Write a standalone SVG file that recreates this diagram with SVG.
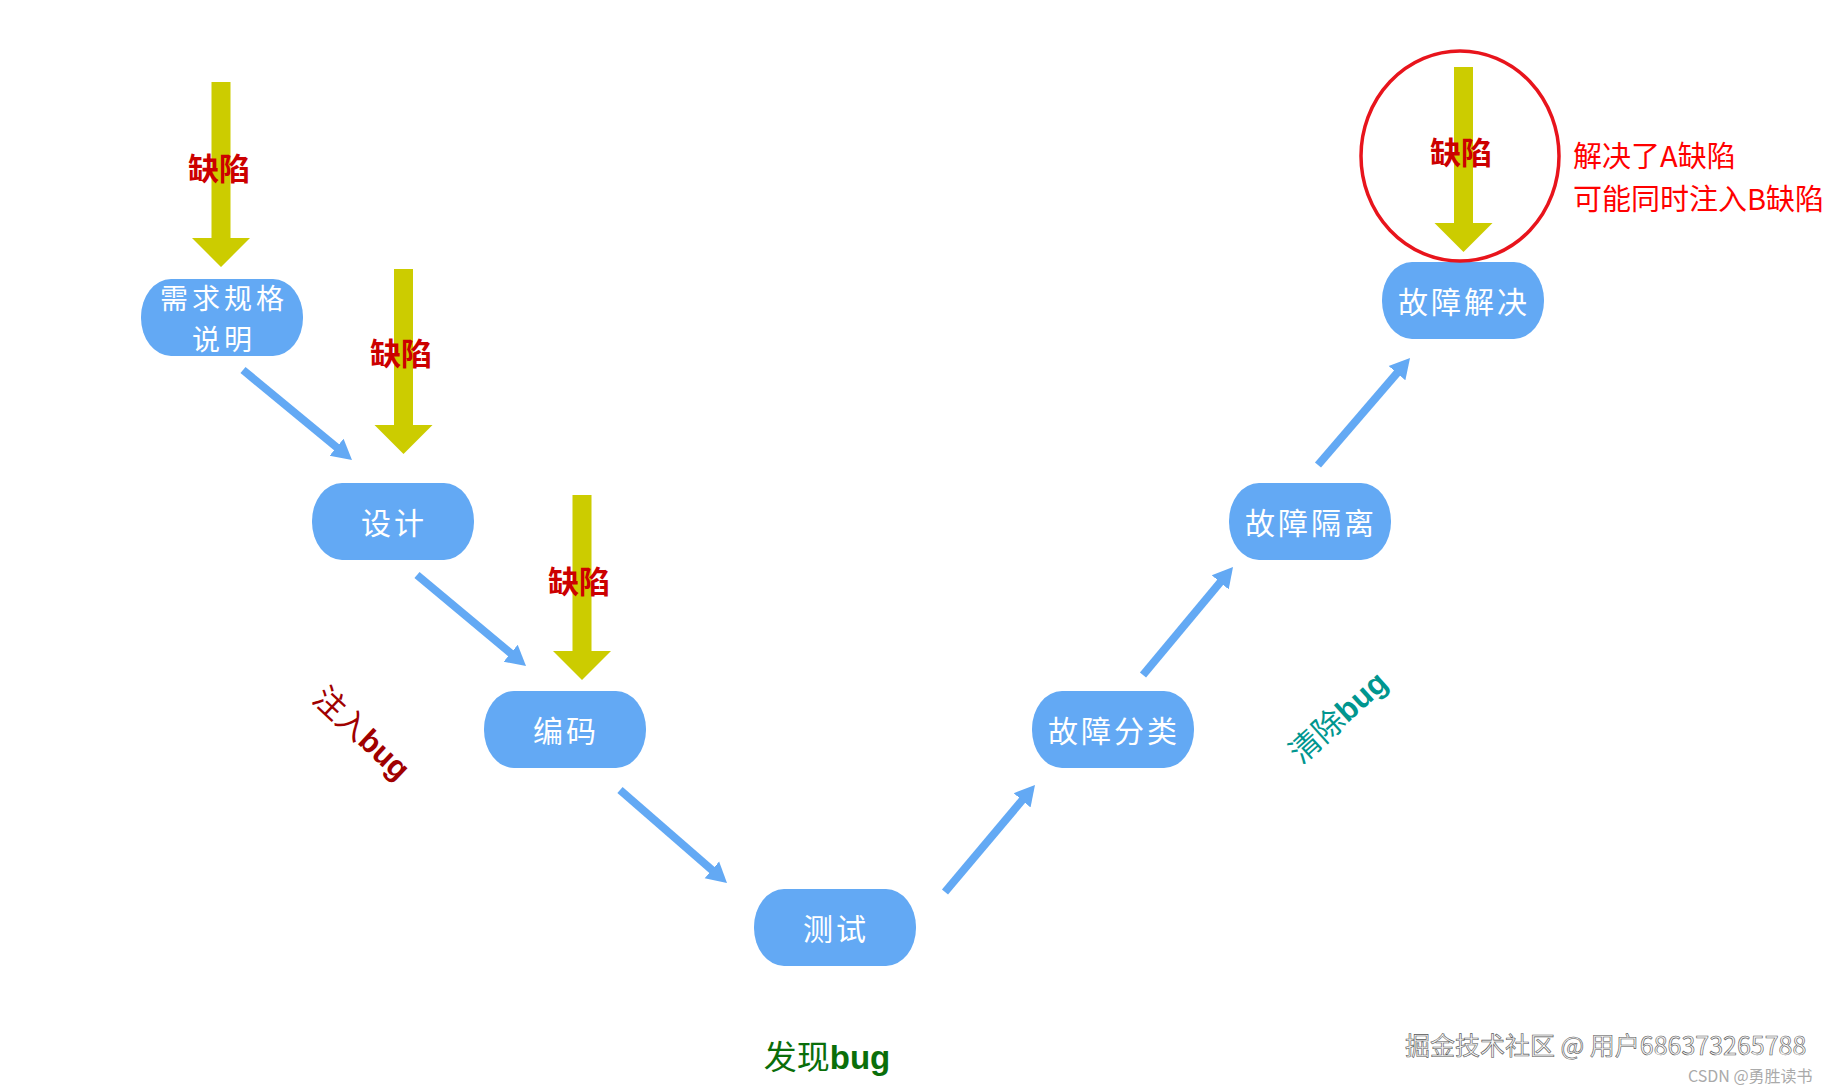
<svg xmlns="http://www.w3.org/2000/svg" xmlns:xlink="http://www.w3.org/1999/xlink" width="1836" height="1090" viewBox="0 0 1836 1090">
<style>
.node rect{fill:#63a9f4}
.nt{font-family:"Noto Sans CJK SC","Noto Sans",sans-serif;font-size:30px;fill:#ffffff;text-anchor:middle;letter-spacing:3px}
.nt2{font-size:28px;letter-spacing:4px}
.conn line{stroke:#63a9f4;stroke-width:8;fill:none}
.defect{font-family:"Noto Sans CJK SC",sans-serif;font-size:31px;font-weight:600;fill:#cc0000;text-anchor:middle}
.yarrow{fill:#cccc00}
.note{font-family:"Noto Sans CJK SC","Noto Sans",sans-serif;font-size:29px;fill:#ff0000}
.bugw{font-family:"Liberation Sans","Noto Sans",sans-serif;font-weight:bold}
</style>
<defs>
<marker id="ah" markerUnits="userSpaceOnUse" markerWidth="22" markerHeight="24" refX="2" refY="12" orient="auto" viewBox="0 0 22 24">
<path d="M0,1 L20,12 L0,23 z" fill="#63a9f4"/>
</marker>
<path id="ya" class="yarrow" d="M-9.5,0 L9.5,0 L9.5,156 L29,156 L0,185 L-29,156 L-9.5,156 z"/>
</defs>
<rect x="0" y="0" width="1836" height="1090" fill="#ffffff"/>

<g id="connectors" class="conn">
<line x1="243" y1="370" x2="338.1" y2="448.5" marker-end="url(#ah)"/>
<line x1="417" y1="575" x2="512.2" y2="654.5" marker-end="url(#ah)"/>
<line x1="620" y1="790" x2="713.4" y2="871.2" marker-end="url(#ah)"/>
<line x1="945" y1="892" x2="1023.4" y2="798.8" marker-end="url(#ah)"/>
<line x1="1143" y1="675" x2="1221.5" y2="580.8" marker-end="url(#ah)"/>
<line x1="1318" y1="465" x2="1398.3" y2="371.6" marker-end="url(#ah)"/>
</g>

<g id="defect-arrows">
<use xlink:href="#ya" href="#ya" transform="translate(221,82)"/>
<use xlink:href="#ya" href="#ya" transform="translate(403.5,269)"/>
<use xlink:href="#ya" href="#ya" transform="translate(582,495)"/>
<use xlink:href="#ya" href="#ya" transform="translate(1463.5,67)"/>
</g>

<g id="defect-labels">
<text class="defect" x="219" y="180">缺陷</text>
<text class="defect" x="401" y="365">缺陷</text>
<text class="defect" x="579" y="593">缺陷</text>
<text class="defect" x="1461" y="164">缺陷</text>
</g>

<g id="n1" class="node">
<rect x="141" y="279" width="162" height="77" rx="30" ry="38"/>
<text class="nt nt2" x="224" y="309">需求规格</text>
<text class="nt nt2" x="224" y="350">说明</text>
</g>
<g id="n2" class="node">
<rect x="312" y="483" width="162" height="77" rx="30" ry="38"/>
<text class="nt" x="394" y="534">设计</text>
</g>
<g id="n3" class="node">
<rect x="484" y="691" width="162" height="77" rx="30" ry="38"/>
<text class="nt" x="566" y="742">编码</text>
</g>
<g id="n4" class="node">
<rect x="754" y="889" width="162" height="77" rx="30" ry="38"/>
<text class="nt" x="836" y="940">测试</text>
</g>
<g id="n5" class="node">
<rect x="1032" y="691" width="162" height="77" rx="30" ry="38"/>
<text class="nt" x="1114" y="742">故障分类</text>
</g>
<g id="n6" class="node">
<rect x="1229" y="483" width="162" height="77" rx="30" ry="38"/>
<text class="nt" x="1311" y="534">故障隔离</text>
</g>
<g id="n7" class="node">
<rect x="1382" y="262" width="162" height="77" rx="30" ry="38"/>
<text class="nt" x="1464" y="313">故障解决</text>
</g>

<ellipse id="highlight" cx="1460" cy="156" rx="99" ry="105" fill="none" stroke="#e8141c" stroke-width="3.5"/>

<g id="note">
<text class="note" x="1573" y="167">解决了A缺陷</text>
<text class="note" x="1573" y="210">可能同时注入B缺陷</text>
</g>

<g id="phase-labels">
<text transform="translate(362,733) rotate(43)" x="0" y="11" text-anchor="middle" font-family="Noto Sans CJK SC,sans-serif" font-size="31" fill="#a00000">注入<tspan class="bugw">bug</tspan></text>
<text transform="translate(1338,717) rotate(-42)" x="0" y="11" text-anchor="middle" font-family="Noto Sans CJK SC,sans-serif" font-size="31" fill="#00968f">清除<tspan class="bugw">bug</tspan></text>
<text x="827" y="1069" text-anchor="middle" font-family="Noto Sans CJK SC,sans-serif" font-size="33" fill="#0a6e0a">发现<tspan class="bugw">bug</tspan></text>
</g>

<g id="watermark">
<text x="1405" y="1055" font-family="Noto Sans CJK SC,Noto Sans,sans-serif" font-size="25" fill="#f6f6f6" stroke="#555555" stroke-width="0.6">掘金技术社区 @ 用户686373265788</text>
<text x="1688" y="1082" font-family="Noto Sans CJK SC,Noto Sans,sans-serif" font-size="16" fill="#aaaaaa">CSDN @勇胜读书</text>
</g>
</svg>
